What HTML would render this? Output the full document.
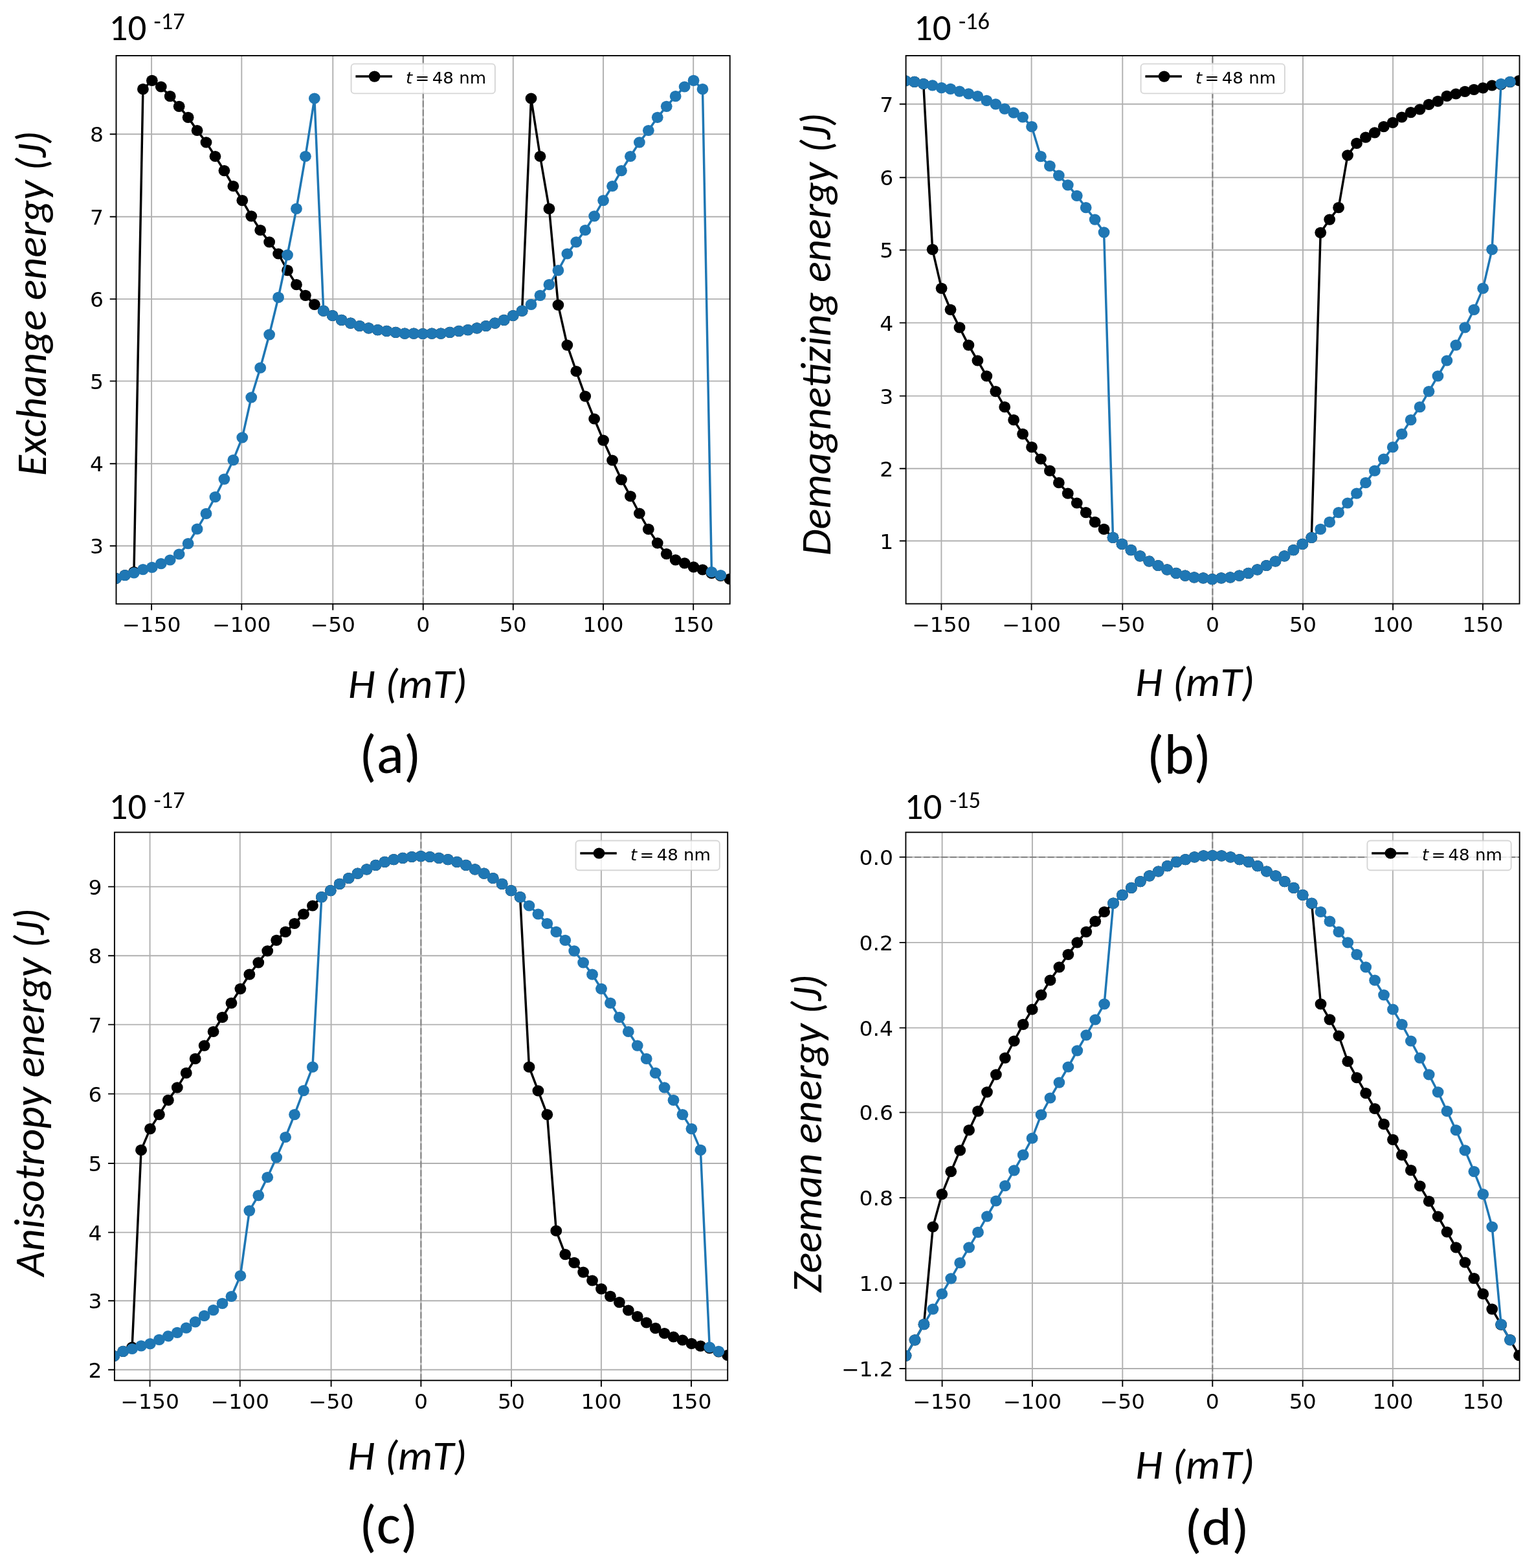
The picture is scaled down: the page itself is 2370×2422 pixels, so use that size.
<!DOCTYPE html><html><head><meta charset="utf-8"><title>Energy vs H</title><style>html,body{margin:0;padding:0;background:#fff}svg{display:block}</style></head><body>
<svg xmlns="http://www.w3.org/2000/svg" width="2370" height="2422" viewBox="0 0 2370 2422">
<rect width="2370" height="2422" fill="#fff"/>
<clipPath id="clip_a"><rect x="179.5" y="86" width="948.2" height="846.8"/></clipPath>
<path d="M234.1 86V932.8M373.3 86V932.8M514.3 86V932.8M653.75 86V932.8M792.8 86V932.8M932 86V932.8M1071.2 86V932.8M179.5 207.2H1127.7M179.5 334.8H1127.7M179.5 461.9H1127.7M179.5 588.6H1127.7M179.5 716.3H1127.7M179.5 843.2H1127.7" stroke="#b0b0b0" stroke-width="1.9" fill="none"/>
<g clip-path="url(#clip_a)">
<path d="M653.75 932.8V86" stroke="#808080" stroke-width="2" stroke-dasharray="10 3.7" fill="none"/>
<polyline points="179.07,893.4 193.02,888.5 206.96,883.5 220.91,137.7 234.85,124.4 248.8,134 262.74,148.7 276.69,164.3 290.63,181.3 304.58,201.5 318.52,219.9 332.47,241.5 346.41,263.6 360.36,287.5 374.3,309.6 388.25,333.8 402.19,355.5 416.13,373.9 430.08,392 444.03,417.7 457.97,439.7 471.92,456.3 485.86,470.4 499.81,480.2 513.75,487.5 527.7,494.3 541.64,499.1 555.59,503.5 569.53,506.8 583.48,509.6 597.42,511.4 611.37,513.3 625.31,515.1 639.25,515.1 653.2,515.5 667.15,515.1 681.09,515.1 695.04,513.3 708.98,511.4 722.93,509.6 736.87,506.8 750.82,503.5 764.76,499.1 778.71,494.3 792.65,487.5 806.6,480.2 820.54,152 834.49,241.5 848.43,322.4 862.38,471.1 876.32,533.1 890.27,573.5 904.21,612.1 918.16,647 932.1,680.1 946.05,711 959.99,740.8 973.94,766.5 987.88,793 1001.83,817.4 1015.77,838.8 1029.72,855.6 1043.66,864.9 1057.61,869.9 1071.55,875.8 1085.5,880 1099.44,885.5 1113.38,889.5 1127.33,894.3" fill="none" stroke="#000" stroke-width="3.5" stroke-linejoin="round"/>
<g fill="#000"><ellipse cx="179.07" cy="893.4" rx="8.9" ry="8.6"/><ellipse cx="193.02" cy="888.5" rx="8.9" ry="8.6"/><ellipse cx="206.96" cy="883.5" rx="8.9" ry="8.6"/><ellipse cx="220.91" cy="137.7" rx="8.9" ry="8.6"/><ellipse cx="234.85" cy="124.4" rx="8.9" ry="8.6"/><ellipse cx="248.8" cy="134" rx="8.9" ry="8.6"/><ellipse cx="262.74" cy="148.7" rx="8.9" ry="8.6"/><ellipse cx="276.69" cy="164.3" rx="8.9" ry="8.6"/><ellipse cx="290.63" cy="181.3" rx="8.9" ry="8.6"/><ellipse cx="304.58" cy="201.5" rx="8.9" ry="8.6"/><ellipse cx="318.52" cy="219.9" rx="8.9" ry="8.6"/><ellipse cx="332.47" cy="241.5" rx="8.9" ry="8.6"/><ellipse cx="346.41" cy="263.6" rx="8.9" ry="8.6"/><ellipse cx="360.36" cy="287.5" rx="8.9" ry="8.6"/><ellipse cx="374.3" cy="309.6" rx="8.9" ry="8.6"/><ellipse cx="388.25" cy="333.8" rx="8.9" ry="8.6"/><ellipse cx="402.19" cy="355.5" rx="8.9" ry="8.6"/><ellipse cx="416.13" cy="373.9" rx="8.9" ry="8.6"/><ellipse cx="430.08" cy="392" rx="8.9" ry="8.6"/><ellipse cx="444.03" cy="417.7" rx="8.9" ry="8.6"/><ellipse cx="457.97" cy="439.7" rx="8.9" ry="8.6"/><ellipse cx="471.92" cy="456.3" rx="8.9" ry="8.6"/><ellipse cx="485.86" cy="470.4" rx="8.9" ry="8.6"/><ellipse cx="499.81" cy="480.2" rx="8.9" ry="8.6"/><ellipse cx="513.75" cy="487.5" rx="8.9" ry="8.6"/><ellipse cx="527.7" cy="494.3" rx="8.9" ry="8.6"/><ellipse cx="541.64" cy="499.1" rx="8.9" ry="8.6"/><ellipse cx="555.59" cy="503.5" rx="8.9" ry="8.6"/><ellipse cx="569.53" cy="506.8" rx="8.9" ry="8.6"/><ellipse cx="583.48" cy="509.6" rx="8.9" ry="8.6"/><ellipse cx="597.42" cy="511.4" rx="8.9" ry="8.6"/><ellipse cx="611.37" cy="513.3" rx="8.9" ry="8.6"/><ellipse cx="625.31" cy="515.1" rx="8.9" ry="8.6"/><ellipse cx="639.25" cy="515.1" rx="8.9" ry="8.6"/><ellipse cx="653.2" cy="515.5" rx="8.9" ry="8.6"/><ellipse cx="667.15" cy="515.1" rx="8.9" ry="8.6"/><ellipse cx="681.09" cy="515.1" rx="8.9" ry="8.6"/><ellipse cx="695.04" cy="513.3" rx="8.9" ry="8.6"/><ellipse cx="708.98" cy="511.4" rx="8.9" ry="8.6"/><ellipse cx="722.93" cy="509.6" rx="8.9" ry="8.6"/><ellipse cx="736.87" cy="506.8" rx="8.9" ry="8.6"/><ellipse cx="750.82" cy="503.5" rx="8.9" ry="8.6"/><ellipse cx="764.76" cy="499.1" rx="8.9" ry="8.6"/><ellipse cx="778.71" cy="494.3" rx="8.9" ry="8.6"/><ellipse cx="792.65" cy="487.5" rx="8.9" ry="8.6"/><ellipse cx="806.6" cy="480.2" rx="8.9" ry="8.6"/><ellipse cx="820.54" cy="152" rx="8.9" ry="8.6"/><ellipse cx="834.49" cy="241.5" rx="8.9" ry="8.6"/><ellipse cx="848.43" cy="322.4" rx="8.9" ry="8.6"/><ellipse cx="862.38" cy="471.1" rx="8.9" ry="8.6"/><ellipse cx="876.32" cy="533.1" rx="8.9" ry="8.6"/><ellipse cx="890.27" cy="573.5" rx="8.9" ry="8.6"/><ellipse cx="904.21" cy="612.1" rx="8.9" ry="8.6"/><ellipse cx="918.16" cy="647" rx="8.9" ry="8.6"/><ellipse cx="932.1" cy="680.1" rx="8.9" ry="8.6"/><ellipse cx="946.05" cy="711" rx="8.9" ry="8.6"/><ellipse cx="959.99" cy="740.8" rx="8.9" ry="8.6"/><ellipse cx="973.94" cy="766.5" rx="8.9" ry="8.6"/><ellipse cx="987.88" cy="793" rx="8.9" ry="8.6"/><ellipse cx="1001.83" cy="817.4" rx="8.9" ry="8.6"/><ellipse cx="1015.77" cy="838.8" rx="8.9" ry="8.6"/><ellipse cx="1029.72" cy="855.6" rx="8.9" ry="8.6"/><ellipse cx="1043.66" cy="864.9" rx="8.9" ry="8.6"/><ellipse cx="1057.61" cy="869.9" rx="8.9" ry="8.6"/><ellipse cx="1071.55" cy="875.8" rx="8.9" ry="8.6"/><ellipse cx="1085.5" cy="880" rx="8.9" ry="8.6"/><ellipse cx="1099.44" cy="885.5" rx="8.9" ry="8.6"/><ellipse cx="1113.38" cy="889.5" rx="8.9" ry="8.6"/><ellipse cx="1127.33" cy="894.3" rx="8.9" ry="8.6"/></g>
<polyline points="179.07,893.4 193.02,888.7 206.96,884.8 220.91,879.6 234.85,876.4 248.8,870.6 262.74,865 276.69,856 290.63,839.6 304.58,817.2 318.52,793.4 332.47,767.7 346.41,740.1 360.36,710.7 374.3,675.8 388.25,613.8 402.19,568.2 416.13,516.8 430.08,459.4 444.03,393.8 457.97,322.4 471.92,241.5 485.86,152 499.81,480.2 513.75,487.5 527.7,494.3 541.64,499.1 555.59,503.5 569.53,506.8 583.48,509.6 597.42,511.4 611.37,513.3 625.31,515.1 639.25,515.1 653.2,515.5 667.15,515.1 681.09,515.1 695.04,513.3 708.98,511.4 722.93,509.6 736.87,506.8 750.82,503.5 764.76,499.1 778.71,494.3 792.65,487.5 806.6,480.2 820.54,470.4 834.49,456.3 848.43,439.7 862.38,417.7 876.32,392 890.27,373.9 904.21,355.5 918.16,333.8 932.1,309.6 946.05,287.5 959.99,263.6 973.94,241.5 987.88,219.9 1001.83,201.5 1015.77,181.3 1029.72,164.3 1043.66,148.7 1057.61,134 1071.55,124.4 1085.5,137.7 1099.44,883.5 1113.38,888.5" fill="none" stroke="#1f77b4" stroke-width="3.5" stroke-linejoin="round"/>
<g fill="#1f77b4"><ellipse cx="179.07" cy="893.4" rx="8.9" ry="8.6"/><ellipse cx="193.02" cy="888.7" rx="8.9" ry="8.6"/><ellipse cx="206.96" cy="884.8" rx="8.9" ry="8.6"/><ellipse cx="220.91" cy="879.6" rx="8.9" ry="8.6"/><ellipse cx="234.85" cy="876.4" rx="8.9" ry="8.6"/><ellipse cx="248.8" cy="870.6" rx="8.9" ry="8.6"/><ellipse cx="262.74" cy="865" rx="8.9" ry="8.6"/><ellipse cx="276.69" cy="856" rx="8.9" ry="8.6"/><ellipse cx="290.63" cy="839.6" rx="8.9" ry="8.6"/><ellipse cx="304.58" cy="817.2" rx="8.9" ry="8.6"/><ellipse cx="318.52" cy="793.4" rx="8.9" ry="8.6"/><ellipse cx="332.47" cy="767.7" rx="8.9" ry="8.6"/><ellipse cx="346.41" cy="740.1" rx="8.9" ry="8.6"/><ellipse cx="360.36" cy="710.7" rx="8.9" ry="8.6"/><ellipse cx="374.3" cy="675.8" rx="8.9" ry="8.6"/><ellipse cx="388.25" cy="613.8" rx="8.9" ry="8.6"/><ellipse cx="402.19" cy="568.2" rx="8.9" ry="8.6"/><ellipse cx="416.13" cy="516.8" rx="8.9" ry="8.6"/><ellipse cx="430.08" cy="459.4" rx="8.9" ry="8.6"/><ellipse cx="444.03" cy="393.8" rx="8.9" ry="8.6"/><ellipse cx="457.97" cy="322.4" rx="8.9" ry="8.6"/><ellipse cx="471.92" cy="241.5" rx="8.9" ry="8.6"/><ellipse cx="485.86" cy="152" rx="8.9" ry="8.6"/><ellipse cx="499.81" cy="480.2" rx="8.9" ry="8.6"/><ellipse cx="513.75" cy="487.5" rx="8.9" ry="8.6"/><ellipse cx="527.7" cy="494.3" rx="8.9" ry="8.6"/><ellipse cx="541.64" cy="499.1" rx="8.9" ry="8.6"/><ellipse cx="555.59" cy="503.5" rx="8.9" ry="8.6"/><ellipse cx="569.53" cy="506.8" rx="8.9" ry="8.6"/><ellipse cx="583.48" cy="509.6" rx="8.9" ry="8.6"/><ellipse cx="597.42" cy="511.4" rx="8.9" ry="8.6"/><ellipse cx="611.37" cy="513.3" rx="8.9" ry="8.6"/><ellipse cx="625.31" cy="515.1" rx="8.9" ry="8.6"/><ellipse cx="639.25" cy="515.1" rx="8.9" ry="8.6"/><ellipse cx="653.2" cy="515.5" rx="8.9" ry="8.6"/><ellipse cx="667.15" cy="515.1" rx="8.9" ry="8.6"/><ellipse cx="681.09" cy="515.1" rx="8.9" ry="8.6"/><ellipse cx="695.04" cy="513.3" rx="8.9" ry="8.6"/><ellipse cx="708.98" cy="511.4" rx="8.9" ry="8.6"/><ellipse cx="722.93" cy="509.6" rx="8.9" ry="8.6"/><ellipse cx="736.87" cy="506.8" rx="8.9" ry="8.6"/><ellipse cx="750.82" cy="503.5" rx="8.9" ry="8.6"/><ellipse cx="764.76" cy="499.1" rx="8.9" ry="8.6"/><ellipse cx="778.71" cy="494.3" rx="8.9" ry="8.6"/><ellipse cx="792.65" cy="487.5" rx="8.9" ry="8.6"/><ellipse cx="806.6" cy="480.2" rx="8.9" ry="8.6"/><ellipse cx="820.54" cy="470.4" rx="8.9" ry="8.6"/><ellipse cx="834.49" cy="456.3" rx="8.9" ry="8.6"/><ellipse cx="848.43" cy="439.7" rx="8.9" ry="8.6"/><ellipse cx="862.38" cy="417.7" rx="8.9" ry="8.6"/><ellipse cx="876.32" cy="392" rx="8.9" ry="8.6"/><ellipse cx="890.27" cy="373.9" rx="8.9" ry="8.6"/><ellipse cx="904.21" cy="355.5" rx="8.9" ry="8.6"/><ellipse cx="918.16" cy="333.8" rx="8.9" ry="8.6"/><ellipse cx="932.1" cy="309.6" rx="8.9" ry="8.6"/><ellipse cx="946.05" cy="287.5" rx="8.9" ry="8.6"/><ellipse cx="959.99" cy="263.6" rx="8.9" ry="8.6"/><ellipse cx="973.94" cy="241.5" rx="8.9" ry="8.6"/><ellipse cx="987.88" cy="219.9" rx="8.9" ry="8.6"/><ellipse cx="1001.83" cy="201.5" rx="8.9" ry="8.6"/><ellipse cx="1015.77" cy="181.3" rx="8.9" ry="8.6"/><ellipse cx="1029.72" cy="164.3" rx="8.9" ry="8.6"/><ellipse cx="1043.66" cy="148.7" rx="8.9" ry="8.6"/><ellipse cx="1057.61" cy="134" rx="8.9" ry="8.6"/><ellipse cx="1071.55" cy="124.4" rx="8.9" ry="8.6"/><ellipse cx="1085.5" cy="137.7" rx="8.9" ry="8.6"/><ellipse cx="1099.44" cy="883.5" rx="8.9" ry="8.6"/><ellipse cx="1113.38" cy="888.5" rx="8.9" ry="8.6"/></g>
</g>
<rect x="179.5" y="86" width="948.2" height="846.8" fill="none" stroke="#000" stroke-width="1.9"/>
<path d="M234.1 932.8v9.8M373.3 932.8v9.8M514.3 932.8v9.8M653.75 932.8v9.8M792.8 932.8v9.8M932 932.8v9.8M1071.2 932.8v9.8M179.5 207.2h-9.8M179.5 334.8h-9.8M179.5 461.9h-9.8M179.5 588.6h-9.8M179.5 716.3h-9.8M179.5 843.2h-9.8" stroke="#000" stroke-width="1.9" fill="none"/>
<g font-family="DejaVu Sans" font-size="31.4" fill="#000">
<text transform="translate(234.1 976.2) scale(1.05 1)" text-anchor="middle">−150</text>
<text transform="translate(373.3 976.2) scale(1.05 1)" text-anchor="middle">−100</text>
<text transform="translate(514.3 976.2) scale(1.05 1)" text-anchor="middle">−50</text>
<text transform="translate(653.75 976.2) scale(1.05 1)" text-anchor="middle">0</text>
<text transform="translate(792.8 976.2) scale(1.05 1)" text-anchor="middle">50</text>
<text transform="translate(932 976.2) scale(1.05 1)" text-anchor="middle">100</text>
<text transform="translate(1071.2 976.2) scale(1.05 1)" text-anchor="middle">150</text>
<text transform="translate(160.1 219.2) scale(1.05 1)" text-anchor="end">8</text>
<text transform="translate(160.1 346.8) scale(1.05 1)" text-anchor="end">7</text>
<text transform="translate(160.1 473.9) scale(1.05 1)" text-anchor="end">6</text>
<text transform="translate(160.1 600.6) scale(1.05 1)" text-anchor="end">5</text>
<text transform="translate(160.1 728.3) scale(1.05 1)" text-anchor="end">4</text>
<text transform="translate(160.1 855.2) scale(1.05 1)" text-anchor="end">3</text>
</g>
<clipPath id="clip_b"><rect x="1399.6" y="86" width="948" height="846.6"/></clipPath>
<path d="M1454.4 86V932.6M1593.6 86V932.6M1734.3 86V932.6M1873.4 86V932.6M2013 86V932.6M2152.1 86V932.6M2291 86V932.6M1399.6 160.8H2347.6M1399.6 274.3H2347.6M1399.6 386.3H2347.6M1399.6 498.6H2347.6M1399.6 611.6H2347.6M1399.6 723.8H2347.6M1399.6 835.5H2347.6" stroke="#b0b0b0" stroke-width="1.9" fill="none"/>
<g clip-path="url(#clip_b)">
<path d="M1873.4 932.6V86" stroke="#808080" stroke-width="2" stroke-dasharray="10 3.7" fill="none"/>
<polyline points="1398.82,124.9 1412.76,126.4 1426.71,129.5 1440.65,385.3 1454.6,445.3 1468.54,478.3 1482.48,505.9 1496.43,533.1 1510.37,557 1524.31,580.9 1538.26,604.6 1552.2,628.7 1566.14,648.7 1580.09,670.4 1594.03,690.7 1607.97,709 1621.92,727.2 1635.86,745.7 1649.8,762.2 1663.75,777 1677.69,791.7 1691.63,806.4 1705.58,817.4 1719.52,830.3 1733.47,840.4 1747.41,849.6 1761.35,858.8 1775.3,867 1789.24,873.5 1803.18,879.9 1817.13,885.4 1831.07,889.1 1845.01,891.8 1858.96,892.8 1872.9,894.6 1886.84,892.8 1900.79,891.8 1914.73,889.1 1928.67,885.4 1942.62,879.9 1956.56,873.5 1970.5,867 1984.45,858.8 1998.39,849.6 2012.34,840.4 2026.28,830.3 2040.22,359.3 2054.17,339.1 2068.11,320.7 2082.05,239.8 2096,221.4 2109.94,212.2 2123.88,204.9 2137.83,195.7 2151.77,189.3 2165.71,181 2179.66,173.6 2193.6,169 2207.54,161.4 2221.49,156.4 2235.43,148.4 2249.37,145 2263.32,141.3 2277.26,138.3 2291.2,135.8 2305.15,132 2319.09,130.3 2333.04,126.6 2346.98,124.5" fill="none" stroke="#000" stroke-width="3.5" stroke-linejoin="round"/>
<g fill="#000"><ellipse cx="1398.82" cy="124.9" rx="8.9" ry="8.6"/><ellipse cx="1412.76" cy="126.4" rx="8.9" ry="8.6"/><ellipse cx="1426.71" cy="129.5" rx="8.9" ry="8.6"/><ellipse cx="1440.65" cy="385.3" rx="8.9" ry="8.6"/><ellipse cx="1454.6" cy="445.3" rx="8.9" ry="8.6"/><ellipse cx="1468.54" cy="478.3" rx="8.9" ry="8.6"/><ellipse cx="1482.48" cy="505.9" rx="8.9" ry="8.6"/><ellipse cx="1496.43" cy="533.1" rx="8.9" ry="8.6"/><ellipse cx="1510.37" cy="557" rx="8.9" ry="8.6"/><ellipse cx="1524.31" cy="580.9" rx="8.9" ry="8.6"/><ellipse cx="1538.26" cy="604.6" rx="8.9" ry="8.6"/><ellipse cx="1552.2" cy="628.7" rx="8.9" ry="8.6"/><ellipse cx="1566.14" cy="648.7" rx="8.9" ry="8.6"/><ellipse cx="1580.09" cy="670.4" rx="8.9" ry="8.6"/><ellipse cx="1594.03" cy="690.7" rx="8.9" ry="8.6"/><ellipse cx="1607.97" cy="709" rx="8.9" ry="8.6"/><ellipse cx="1621.92" cy="727.2" rx="8.9" ry="8.6"/><ellipse cx="1635.86" cy="745.7" rx="8.9" ry="8.6"/><ellipse cx="1649.8" cy="762.2" rx="8.9" ry="8.6"/><ellipse cx="1663.75" cy="777" rx="8.9" ry="8.6"/><ellipse cx="1677.69" cy="791.7" rx="8.9" ry="8.6"/><ellipse cx="1691.63" cy="806.4" rx="8.9" ry="8.6"/><ellipse cx="1705.58" cy="817.4" rx="8.9" ry="8.6"/><ellipse cx="1719.52" cy="830.3" rx="8.9" ry="8.6"/><ellipse cx="1733.47" cy="840.4" rx="8.9" ry="8.6"/><ellipse cx="1747.41" cy="849.6" rx="8.9" ry="8.6"/><ellipse cx="1761.35" cy="858.8" rx="8.9" ry="8.6"/><ellipse cx="1775.3" cy="867" rx="8.9" ry="8.6"/><ellipse cx="1789.24" cy="873.5" rx="8.9" ry="8.6"/><ellipse cx="1803.18" cy="879.9" rx="8.9" ry="8.6"/><ellipse cx="1817.13" cy="885.4" rx="8.9" ry="8.6"/><ellipse cx="1831.07" cy="889.1" rx="8.9" ry="8.6"/><ellipse cx="1845.01" cy="891.8" rx="8.9" ry="8.6"/><ellipse cx="1858.96" cy="892.8" rx="8.9" ry="8.6"/><ellipse cx="1872.9" cy="894.6" rx="8.9" ry="8.6"/><ellipse cx="1886.84" cy="892.8" rx="8.9" ry="8.6"/><ellipse cx="1900.79" cy="891.8" rx="8.9" ry="8.6"/><ellipse cx="1914.73" cy="889.1" rx="8.9" ry="8.6"/><ellipse cx="1928.67" cy="885.4" rx="8.9" ry="8.6"/><ellipse cx="1942.62" cy="879.9" rx="8.9" ry="8.6"/><ellipse cx="1956.56" cy="873.5" rx="8.9" ry="8.6"/><ellipse cx="1970.5" cy="867" rx="8.9" ry="8.6"/><ellipse cx="1984.45" cy="858.8" rx="8.9" ry="8.6"/><ellipse cx="1998.39" cy="849.6" rx="8.9" ry="8.6"/><ellipse cx="2012.34" cy="840.4" rx="8.9" ry="8.6"/><ellipse cx="2026.28" cy="830.3" rx="8.9" ry="8.6"/><ellipse cx="2040.22" cy="359.3" rx="8.9" ry="8.6"/><ellipse cx="2054.17" cy="339.1" rx="8.9" ry="8.6"/><ellipse cx="2068.11" cy="320.7" rx="8.9" ry="8.6"/><ellipse cx="2082.05" cy="239.8" rx="8.9" ry="8.6"/><ellipse cx="2096" cy="221.4" rx="8.9" ry="8.6"/><ellipse cx="2109.94" cy="212.2" rx="8.9" ry="8.6"/><ellipse cx="2123.88" cy="204.9" rx="8.9" ry="8.6"/><ellipse cx="2137.83" cy="195.7" rx="8.9" ry="8.6"/><ellipse cx="2151.77" cy="189.3" rx="8.9" ry="8.6"/><ellipse cx="2165.71" cy="181" rx="8.9" ry="8.6"/><ellipse cx="2179.66" cy="173.6" rx="8.9" ry="8.6"/><ellipse cx="2193.6" cy="169" rx="8.9" ry="8.6"/><ellipse cx="2207.54" cy="161.4" rx="8.9" ry="8.6"/><ellipse cx="2221.49" cy="156.4" rx="8.9" ry="8.6"/><ellipse cx="2235.43" cy="148.4" rx="8.9" ry="8.6"/><ellipse cx="2249.37" cy="145" rx="8.9" ry="8.6"/><ellipse cx="2263.32" cy="141.3" rx="8.9" ry="8.6"/><ellipse cx="2277.26" cy="138.3" rx="8.9" ry="8.6"/><ellipse cx="2291.2" cy="135.8" rx="8.9" ry="8.6"/><ellipse cx="2305.15" cy="132" rx="8.9" ry="8.6"/><ellipse cx="2319.09" cy="130.3" rx="8.9" ry="8.6"/><ellipse cx="2333.04" cy="126.6" rx="8.9" ry="8.6"/><ellipse cx="2346.98" cy="124.5" rx="8.9" ry="8.6"/></g>
<polyline points="1398.82,124.9 1412.76,126.4 1426.71,129.5 1440.65,131.9 1454.6,135.6 1468.54,137.4 1482.48,141.1 1496.43,144.8 1510.37,148.5 1524.31,155.3 1538.26,160.8 1552.2,168.1 1566.14,174.2 1580.09,181 1594.03,195.7 1607.97,241.7 1621.92,256.4 1635.86,271.1 1649.8,285.8 1663.75,302.3 1677.69,320.7 1691.63,339.1 1705.58,358.8 1719.52,830.3 1733.47,840.4 1747.41,849.6 1761.35,858.8 1775.3,867 1789.24,873.5 1803.18,879.9 1817.13,885.4 1831.07,889.1 1845.01,891.8 1858.96,892.8 1872.9,894.6 1886.84,892.8 1900.79,891.8 1914.73,889.1 1928.67,885.4 1942.62,879.9 1956.56,873.5 1970.5,867 1984.45,858.8 1998.39,849.6 2012.34,840.4 2026.28,830.3 2040.22,817.4 2054.17,806.4 2068.11,791.7 2082.05,777 2096,762.2 2109.94,745.7 2123.88,727.2 2137.83,709 2151.77,690.7 2165.71,670.4 2179.66,648.7 2193.6,628.7 2207.54,604.6 2221.49,580.9 2235.43,557 2249.37,533.1 2263.32,505.9 2277.26,478.3 2291.2,445.3 2305.15,385.3 2319.09,129.5 2333.04,126.4" fill="none" stroke="#1f77b4" stroke-width="3.5" stroke-linejoin="round"/>
<g fill="#1f77b4"><ellipse cx="1398.82" cy="124.9" rx="8.9" ry="8.6"/><ellipse cx="1412.76" cy="126.4" rx="8.9" ry="8.6"/><ellipse cx="1426.71" cy="129.5" rx="8.9" ry="8.6"/><ellipse cx="1440.65" cy="131.9" rx="8.9" ry="8.6"/><ellipse cx="1454.6" cy="135.6" rx="8.9" ry="8.6"/><ellipse cx="1468.54" cy="137.4" rx="8.9" ry="8.6"/><ellipse cx="1482.48" cy="141.1" rx="8.9" ry="8.6"/><ellipse cx="1496.43" cy="144.8" rx="8.9" ry="8.6"/><ellipse cx="1510.37" cy="148.5" rx="8.9" ry="8.6"/><ellipse cx="1524.31" cy="155.3" rx="8.9" ry="8.6"/><ellipse cx="1538.26" cy="160.8" rx="8.9" ry="8.6"/><ellipse cx="1552.2" cy="168.1" rx="8.9" ry="8.6"/><ellipse cx="1566.14" cy="174.2" rx="8.9" ry="8.6"/><ellipse cx="1580.09" cy="181" rx="8.9" ry="8.6"/><ellipse cx="1594.03" cy="195.7" rx="8.9" ry="8.6"/><ellipse cx="1607.97" cy="241.7" rx="8.9" ry="8.6"/><ellipse cx="1621.92" cy="256.4" rx="8.9" ry="8.6"/><ellipse cx="1635.86" cy="271.1" rx="8.9" ry="8.6"/><ellipse cx="1649.8" cy="285.8" rx="8.9" ry="8.6"/><ellipse cx="1663.75" cy="302.3" rx="8.9" ry="8.6"/><ellipse cx="1677.69" cy="320.7" rx="8.9" ry="8.6"/><ellipse cx="1691.63" cy="339.1" rx="8.9" ry="8.6"/><ellipse cx="1705.58" cy="358.8" rx="8.9" ry="8.6"/><ellipse cx="1719.52" cy="830.3" rx="8.9" ry="8.6"/><ellipse cx="1733.47" cy="840.4" rx="8.9" ry="8.6"/><ellipse cx="1747.41" cy="849.6" rx="8.9" ry="8.6"/><ellipse cx="1761.35" cy="858.8" rx="8.9" ry="8.6"/><ellipse cx="1775.3" cy="867" rx="8.9" ry="8.6"/><ellipse cx="1789.24" cy="873.5" rx="8.9" ry="8.6"/><ellipse cx="1803.18" cy="879.9" rx="8.9" ry="8.6"/><ellipse cx="1817.13" cy="885.4" rx="8.9" ry="8.6"/><ellipse cx="1831.07" cy="889.1" rx="8.9" ry="8.6"/><ellipse cx="1845.01" cy="891.8" rx="8.9" ry="8.6"/><ellipse cx="1858.96" cy="892.8" rx="8.9" ry="8.6"/><ellipse cx="1872.9" cy="894.6" rx="8.9" ry="8.6"/><ellipse cx="1886.84" cy="892.8" rx="8.9" ry="8.6"/><ellipse cx="1900.79" cy="891.8" rx="8.9" ry="8.6"/><ellipse cx="1914.73" cy="889.1" rx="8.9" ry="8.6"/><ellipse cx="1928.67" cy="885.4" rx="8.9" ry="8.6"/><ellipse cx="1942.62" cy="879.9" rx="8.9" ry="8.6"/><ellipse cx="1956.56" cy="873.5" rx="8.9" ry="8.6"/><ellipse cx="1970.5" cy="867" rx="8.9" ry="8.6"/><ellipse cx="1984.45" cy="858.8" rx="8.9" ry="8.6"/><ellipse cx="1998.39" cy="849.6" rx="8.9" ry="8.6"/><ellipse cx="2012.34" cy="840.4" rx="8.9" ry="8.6"/><ellipse cx="2026.28" cy="830.3" rx="8.9" ry="8.6"/><ellipse cx="2040.22" cy="817.4" rx="8.9" ry="8.6"/><ellipse cx="2054.17" cy="806.4" rx="8.9" ry="8.6"/><ellipse cx="2068.11" cy="791.7" rx="8.9" ry="8.6"/><ellipse cx="2082.05" cy="777" rx="8.9" ry="8.6"/><ellipse cx="2096" cy="762.2" rx="8.9" ry="8.6"/><ellipse cx="2109.94" cy="745.7" rx="8.9" ry="8.6"/><ellipse cx="2123.88" cy="727.2" rx="8.9" ry="8.6"/><ellipse cx="2137.83" cy="709" rx="8.9" ry="8.6"/><ellipse cx="2151.77" cy="690.7" rx="8.9" ry="8.6"/><ellipse cx="2165.71" cy="670.4" rx="8.9" ry="8.6"/><ellipse cx="2179.66" cy="648.7" rx="8.9" ry="8.6"/><ellipse cx="2193.6" cy="628.7" rx="8.9" ry="8.6"/><ellipse cx="2207.54" cy="604.6" rx="8.9" ry="8.6"/><ellipse cx="2221.49" cy="580.9" rx="8.9" ry="8.6"/><ellipse cx="2235.43" cy="557" rx="8.9" ry="8.6"/><ellipse cx="2249.37" cy="533.1" rx="8.9" ry="8.6"/><ellipse cx="2263.32" cy="505.9" rx="8.9" ry="8.6"/><ellipse cx="2277.26" cy="478.3" rx="8.9" ry="8.6"/><ellipse cx="2291.2" cy="445.3" rx="8.9" ry="8.6"/><ellipse cx="2305.15" cy="385.3" rx="8.9" ry="8.6"/><ellipse cx="2319.09" cy="129.5" rx="8.9" ry="8.6"/><ellipse cx="2333.04" cy="126.4" rx="8.9" ry="8.6"/></g>
</g>
<rect x="1399.6" y="86" width="948" height="846.6" fill="none" stroke="#000" stroke-width="1.9"/>
<path d="M1454.4 932.6v9.8M1593.6 932.6v9.8M1734.3 932.6v9.8M1873.4 932.6v9.8M2013 932.6v9.8M2152.1 932.6v9.8M2291 932.6v9.8M1399.6 160.8h-9.8M1399.6 274.3h-9.8M1399.6 386.3h-9.8M1399.6 498.6h-9.8M1399.6 611.6h-9.8M1399.6 723.8h-9.8M1399.6 835.5h-9.8" stroke="#000" stroke-width="1.9" fill="none"/>
<g font-family="DejaVu Sans" font-size="31.4" fill="#000">
<text transform="translate(1454.4 976) scale(1.05 1)" text-anchor="middle">−150</text>
<text transform="translate(1593.6 976) scale(1.05 1)" text-anchor="middle">−100</text>
<text transform="translate(1734.3 976) scale(1.05 1)" text-anchor="middle">−50</text>
<text transform="translate(1873.4 976) scale(1.05 1)" text-anchor="middle">0</text>
<text transform="translate(2013 976) scale(1.05 1)" text-anchor="middle">50</text>
<text transform="translate(2152.1 976) scale(1.05 1)" text-anchor="middle">100</text>
<text transform="translate(2291 976) scale(1.05 1)" text-anchor="middle">150</text>
<text transform="translate(1380.2 172.8) scale(1.05 1)" text-anchor="end">7</text>
<text transform="translate(1380.2 286.3) scale(1.05 1)" text-anchor="end">6</text>
<text transform="translate(1380.2 398.3) scale(1.05 1)" text-anchor="end">5</text>
<text transform="translate(1380.2 510.6) scale(1.05 1)" text-anchor="end">4</text>
<text transform="translate(1380.2 623.6) scale(1.05 1)" text-anchor="end">3</text>
<text transform="translate(1380.2 735.8) scale(1.05 1)" text-anchor="end">2</text>
<text transform="translate(1380.2 847.5) scale(1.05 1)" text-anchor="end">1</text>
</g>
<clipPath id="clip_c"><rect x="176.9" y="1285.6" width="947.3" height="846.7"/></clipPath>
<path d="M231.6 1285.6V2132.3M370.8 1285.6V2132.3M511.6 1285.6V2132.3M650.4 1285.6V2132.3M790.1 1285.6V2132.3M928.9 1285.6V2132.3M1068 1285.6V2132.3M176.9 1369.6H1124.2M176.9 1476.2H1124.2M176.9 1582.6H1124.2M176.9 1689.6H1124.2M176.9 1797H1124.2M176.9 1903.6H1124.2M176.9 2009.3H1124.2M176.9 2115.8H1124.2" stroke="#b0b0b0" stroke-width="1.9" fill="none"/>
<g clip-path="url(#clip_c)">
<path d="M650.4 2132.3V1285.6" stroke="#808080" stroke-width="2" stroke-dasharray="10 3.7" fill="none"/>
<polyline points="176.24,2094.5 190.18,2087.4 204.12,2081 218.06,1776.4 232,1743.6 245.94,1721.6 259.88,1699.3 273.82,1679.9 287.76,1657.4 301.7,1635.4 315.64,1615.1 329.58,1593.5 343.52,1571.4 357.46,1549.3 371.4,1527.3 385.34,1505.2 399.28,1486.8 413.22,1468.8 427.16,1452.3 441.1,1439.4 455.04,1426.5 468.98,1412 482.92,1399 496.86,1385.7 510.8,1375.6 524.74,1365.4 538.68,1356.5 552.62,1349.2 566.56,1342.9 580.5,1336.3 594.44,1331.4 608.38,1327.7 622.32,1325.3 636.26,1323.5 650.2,1322.7 664.14,1323.5 678.08,1325.3 692.02,1327.7 705.96,1331.4 719.9,1336.3 733.84,1342.9 747.78,1349.2 761.72,1356.5 775.66,1365.4 789.6,1375.6 803.54,1385.7 817.48,1648.2 831.42,1684.9 845.36,1721.6 859.3,1901.2 873.24,1937.6 887.18,1950.4 901.12,1965.1 915.06,1978 929,1990.9 942.94,2002.3 956.88,2011.6 970.82,2024 984.76,2033.5 998.7,2043 1012.64,2051.6 1026.58,2059.5 1040.52,2065 1054.46,2070 1068.4,2075.3 1082.34,2079.2 1096.28,2082.5 1110.22,2088 1124.16,2093.4" fill="none" stroke="#000" stroke-width="3.5" stroke-linejoin="round"/>
<g fill="#000"><ellipse cx="176.24" cy="2094.5" rx="8.9" ry="8.6"/><ellipse cx="190.18" cy="2087.4" rx="8.9" ry="8.6"/><ellipse cx="204.12" cy="2081" rx="8.9" ry="8.6"/><ellipse cx="218.06" cy="1776.4" rx="8.9" ry="8.6"/><ellipse cx="232" cy="1743.6" rx="8.9" ry="8.6"/><ellipse cx="245.94" cy="1721.6" rx="8.9" ry="8.6"/><ellipse cx="259.88" cy="1699.3" rx="8.9" ry="8.6"/><ellipse cx="273.82" cy="1679.9" rx="8.9" ry="8.6"/><ellipse cx="287.76" cy="1657.4" rx="8.9" ry="8.6"/><ellipse cx="301.7" cy="1635.4" rx="8.9" ry="8.6"/><ellipse cx="315.64" cy="1615.1" rx="8.9" ry="8.6"/><ellipse cx="329.58" cy="1593.5" rx="8.9" ry="8.6"/><ellipse cx="343.52" cy="1571.4" rx="8.9" ry="8.6"/><ellipse cx="357.46" cy="1549.3" rx="8.9" ry="8.6"/><ellipse cx="371.4" cy="1527.3" rx="8.9" ry="8.6"/><ellipse cx="385.34" cy="1505.2" rx="8.9" ry="8.6"/><ellipse cx="399.28" cy="1486.8" rx="8.9" ry="8.6"/><ellipse cx="413.22" cy="1468.8" rx="8.9" ry="8.6"/><ellipse cx="427.16" cy="1452.3" rx="8.9" ry="8.6"/><ellipse cx="441.1" cy="1439.4" rx="8.9" ry="8.6"/><ellipse cx="455.04" cy="1426.5" rx="8.9" ry="8.6"/><ellipse cx="468.98" cy="1412" rx="8.9" ry="8.6"/><ellipse cx="482.92" cy="1399" rx="8.9" ry="8.6"/><ellipse cx="496.86" cy="1385.7" rx="8.9" ry="8.6"/><ellipse cx="510.8" cy="1375.6" rx="8.9" ry="8.6"/><ellipse cx="524.74" cy="1365.4" rx="8.9" ry="8.6"/><ellipse cx="538.68" cy="1356.5" rx="8.9" ry="8.6"/><ellipse cx="552.62" cy="1349.2" rx="8.9" ry="8.6"/><ellipse cx="566.56" cy="1342.9" rx="8.9" ry="8.6"/><ellipse cx="580.5" cy="1336.3" rx="8.9" ry="8.6"/><ellipse cx="594.44" cy="1331.4" rx="8.9" ry="8.6"/><ellipse cx="608.38" cy="1327.7" rx="8.9" ry="8.6"/><ellipse cx="622.32" cy="1325.3" rx="8.9" ry="8.6"/><ellipse cx="636.26" cy="1323.5" rx="8.9" ry="8.6"/><ellipse cx="650.2" cy="1322.7" rx="8.9" ry="8.6"/><ellipse cx="664.14" cy="1323.5" rx="8.9" ry="8.6"/><ellipse cx="678.08" cy="1325.3" rx="8.9" ry="8.6"/><ellipse cx="692.02" cy="1327.7" rx="8.9" ry="8.6"/><ellipse cx="705.96" cy="1331.4" rx="8.9" ry="8.6"/><ellipse cx="719.9" cy="1336.3" rx="8.9" ry="8.6"/><ellipse cx="733.84" cy="1342.9" rx="8.9" ry="8.6"/><ellipse cx="747.78" cy="1349.2" rx="8.9" ry="8.6"/><ellipse cx="761.72" cy="1356.5" rx="8.9" ry="8.6"/><ellipse cx="775.66" cy="1365.4" rx="8.9" ry="8.6"/><ellipse cx="789.6" cy="1375.6" rx="8.9" ry="8.6"/><ellipse cx="803.54" cy="1385.7" rx="8.9" ry="8.6"/><ellipse cx="817.48" cy="1648.2" rx="8.9" ry="8.6"/><ellipse cx="831.42" cy="1684.9" rx="8.9" ry="8.6"/><ellipse cx="845.36" cy="1721.6" rx="8.9" ry="8.6"/><ellipse cx="859.3" cy="1901.2" rx="8.9" ry="8.6"/><ellipse cx="873.24" cy="1937.6" rx="8.9" ry="8.6"/><ellipse cx="887.18" cy="1950.4" rx="8.9" ry="8.6"/><ellipse cx="901.12" cy="1965.1" rx="8.9" ry="8.6"/><ellipse cx="915.06" cy="1978" rx="8.9" ry="8.6"/><ellipse cx="929" cy="1990.9" rx="8.9" ry="8.6"/><ellipse cx="942.94" cy="2002.3" rx="8.9" ry="8.6"/><ellipse cx="956.88" cy="2011.6" rx="8.9" ry="8.6"/><ellipse cx="970.82" cy="2024" rx="8.9" ry="8.6"/><ellipse cx="984.76" cy="2033.5" rx="8.9" ry="8.6"/><ellipse cx="998.7" cy="2043" rx="8.9" ry="8.6"/><ellipse cx="1012.64" cy="2051.6" rx="8.9" ry="8.6"/><ellipse cx="1026.58" cy="2059.5" rx="8.9" ry="8.6"/><ellipse cx="1040.52" cy="2065" rx="8.9" ry="8.6"/><ellipse cx="1054.46" cy="2070" rx="8.9" ry="8.6"/><ellipse cx="1068.4" cy="2075.3" rx="8.9" ry="8.6"/><ellipse cx="1082.34" cy="2079.2" rx="8.9" ry="8.6"/><ellipse cx="1096.28" cy="2082.5" rx="8.9" ry="8.6"/><ellipse cx="1110.22" cy="2088" rx="8.9" ry="8.6"/><ellipse cx="1124.16" cy="2093.4" rx="8.9" ry="8.6"/></g>
<polyline points="176.24,2094.5 190.18,2087.4 204.12,2083.5 218.06,2078.8 232,2075.6 245.94,2069.3 259.88,2063.8 273.82,2058.3 287.76,2051.2 301.7,2041.8 315.64,2032.3 329.58,2023.6 343.52,2013.4 357.46,2002.5 371.4,1970.7 385.34,1870.1 399.28,1846.6 413.22,1818.5 427.16,1787.8 441.1,1756.5 455.04,1721.6 468.98,1684.6 482.92,1648.2 496.86,1385.7 510.8,1375.6 524.74,1365.4 538.68,1356.5 552.62,1349.2 566.56,1342.9 580.5,1336.3 594.44,1331.4 608.38,1327.7 622.32,1325.3 636.26,1323.5 650.2,1322.7 664.14,1323.5 678.08,1325.3 692.02,1327.7 705.96,1331.4 719.9,1336.3 733.84,1342.9 747.78,1349.2 761.72,1356.5 775.66,1365.4 789.6,1375.6 803.54,1385.7 817.48,1399 831.42,1412 845.36,1426.5 859.3,1439.4 873.24,1452.3 887.18,1468.8 901.12,1486.8 915.06,1505.2 929,1527.3 942.94,1549.3 956.88,1571.4 970.82,1593.5 984.76,1615.1 998.7,1635.4 1012.64,1657.4 1026.58,1679.9 1040.52,1699.3 1054.46,1721.6 1068.4,1743.6 1082.34,1776.4 1096.28,2081 1110.22,2087.4" fill="none" stroke="#1f77b4" stroke-width="3.5" stroke-linejoin="round"/>
<g fill="#1f77b4"><ellipse cx="176.24" cy="2094.5" rx="8.9" ry="8.6"/><ellipse cx="190.18" cy="2087.4" rx="8.9" ry="8.6"/><ellipse cx="204.12" cy="2083.5" rx="8.9" ry="8.6"/><ellipse cx="218.06" cy="2078.8" rx="8.9" ry="8.6"/><ellipse cx="232" cy="2075.6" rx="8.9" ry="8.6"/><ellipse cx="245.94" cy="2069.3" rx="8.9" ry="8.6"/><ellipse cx="259.88" cy="2063.8" rx="8.9" ry="8.6"/><ellipse cx="273.82" cy="2058.3" rx="8.9" ry="8.6"/><ellipse cx="287.76" cy="2051.2" rx="8.9" ry="8.6"/><ellipse cx="301.7" cy="2041.8" rx="8.9" ry="8.6"/><ellipse cx="315.64" cy="2032.3" rx="8.9" ry="8.6"/><ellipse cx="329.58" cy="2023.6" rx="8.9" ry="8.6"/><ellipse cx="343.52" cy="2013.4" rx="8.9" ry="8.6"/><ellipse cx="357.46" cy="2002.5" rx="8.9" ry="8.6"/><ellipse cx="371.4" cy="1970.7" rx="8.9" ry="8.6"/><ellipse cx="385.34" cy="1870.1" rx="8.9" ry="8.6"/><ellipse cx="399.28" cy="1846.6" rx="8.9" ry="8.6"/><ellipse cx="413.22" cy="1818.5" rx="8.9" ry="8.6"/><ellipse cx="427.16" cy="1787.8" rx="8.9" ry="8.6"/><ellipse cx="441.1" cy="1756.5" rx="8.9" ry="8.6"/><ellipse cx="455.04" cy="1721.6" rx="8.9" ry="8.6"/><ellipse cx="468.98" cy="1684.6" rx="8.9" ry="8.6"/><ellipse cx="482.92" cy="1648.2" rx="8.9" ry="8.6"/><ellipse cx="496.86" cy="1385.7" rx="8.9" ry="8.6"/><ellipse cx="510.8" cy="1375.6" rx="8.9" ry="8.6"/><ellipse cx="524.74" cy="1365.4" rx="8.9" ry="8.6"/><ellipse cx="538.68" cy="1356.5" rx="8.9" ry="8.6"/><ellipse cx="552.62" cy="1349.2" rx="8.9" ry="8.6"/><ellipse cx="566.56" cy="1342.9" rx="8.9" ry="8.6"/><ellipse cx="580.5" cy="1336.3" rx="8.9" ry="8.6"/><ellipse cx="594.44" cy="1331.4" rx="8.9" ry="8.6"/><ellipse cx="608.38" cy="1327.7" rx="8.9" ry="8.6"/><ellipse cx="622.32" cy="1325.3" rx="8.9" ry="8.6"/><ellipse cx="636.26" cy="1323.5" rx="8.9" ry="8.6"/><ellipse cx="650.2" cy="1322.7" rx="8.9" ry="8.6"/><ellipse cx="664.14" cy="1323.5" rx="8.9" ry="8.6"/><ellipse cx="678.08" cy="1325.3" rx="8.9" ry="8.6"/><ellipse cx="692.02" cy="1327.7" rx="8.9" ry="8.6"/><ellipse cx="705.96" cy="1331.4" rx="8.9" ry="8.6"/><ellipse cx="719.9" cy="1336.3" rx="8.9" ry="8.6"/><ellipse cx="733.84" cy="1342.9" rx="8.9" ry="8.6"/><ellipse cx="747.78" cy="1349.2" rx="8.9" ry="8.6"/><ellipse cx="761.72" cy="1356.5" rx="8.9" ry="8.6"/><ellipse cx="775.66" cy="1365.4" rx="8.9" ry="8.6"/><ellipse cx="789.6" cy="1375.6" rx="8.9" ry="8.6"/><ellipse cx="803.54" cy="1385.7" rx="8.9" ry="8.6"/><ellipse cx="817.48" cy="1399" rx="8.9" ry="8.6"/><ellipse cx="831.42" cy="1412" rx="8.9" ry="8.6"/><ellipse cx="845.36" cy="1426.5" rx="8.9" ry="8.6"/><ellipse cx="859.3" cy="1439.4" rx="8.9" ry="8.6"/><ellipse cx="873.24" cy="1452.3" rx="8.9" ry="8.6"/><ellipse cx="887.18" cy="1468.8" rx="8.9" ry="8.6"/><ellipse cx="901.12" cy="1486.8" rx="8.9" ry="8.6"/><ellipse cx="915.06" cy="1505.2" rx="8.9" ry="8.6"/><ellipse cx="929" cy="1527.3" rx="8.9" ry="8.6"/><ellipse cx="942.94" cy="1549.3" rx="8.9" ry="8.6"/><ellipse cx="956.88" cy="1571.4" rx="8.9" ry="8.6"/><ellipse cx="970.82" cy="1593.5" rx="8.9" ry="8.6"/><ellipse cx="984.76" cy="1615.1" rx="8.9" ry="8.6"/><ellipse cx="998.7" cy="1635.4" rx="8.9" ry="8.6"/><ellipse cx="1012.64" cy="1657.4" rx="8.9" ry="8.6"/><ellipse cx="1026.58" cy="1679.9" rx="8.9" ry="8.6"/><ellipse cx="1040.52" cy="1699.3" rx="8.9" ry="8.6"/><ellipse cx="1054.46" cy="1721.6" rx="8.9" ry="8.6"/><ellipse cx="1068.4" cy="1743.6" rx="8.9" ry="8.6"/><ellipse cx="1082.34" cy="1776.4" rx="8.9" ry="8.6"/><ellipse cx="1096.28" cy="2081" rx="8.9" ry="8.6"/><ellipse cx="1110.22" cy="2087.4" rx="8.9" ry="8.6"/></g>
</g>
<rect x="176.9" y="1285.6" width="947.3" height="846.7" fill="none" stroke="#000" stroke-width="1.9"/>
<path d="M231.6 2132.3v9.8M370.8 2132.3v9.8M511.6 2132.3v9.8M650.4 2132.3v9.8M790.1 2132.3v9.8M928.9 2132.3v9.8M1068 2132.3v9.8M176.9 1369.6h-9.8M176.9 1476.2h-9.8M176.9 1582.6h-9.8M176.9 1689.6h-9.8M176.9 1797h-9.8M176.9 1903.6h-9.8M176.9 2009.3h-9.8M176.9 2115.8h-9.8" stroke="#000" stroke-width="1.9" fill="none"/>
<g font-family="DejaVu Sans" font-size="31.4" fill="#000">
<text transform="translate(231.6 2175.7) scale(1.05 1)" text-anchor="middle">−150</text>
<text transform="translate(370.8 2175.7) scale(1.05 1)" text-anchor="middle">−100</text>
<text transform="translate(511.6 2175.7) scale(1.05 1)" text-anchor="middle">−50</text>
<text transform="translate(650.4 2175.7) scale(1.05 1)" text-anchor="middle">0</text>
<text transform="translate(790.1 2175.7) scale(1.05 1)" text-anchor="middle">50</text>
<text transform="translate(928.9 2175.7) scale(1.05 1)" text-anchor="middle">100</text>
<text transform="translate(1068 2175.7) scale(1.05 1)" text-anchor="middle">150</text>
<text transform="translate(157.5 1381.6) scale(1.05 1)" text-anchor="end">9</text>
<text transform="translate(157.5 1488.2) scale(1.05 1)" text-anchor="end">8</text>
<text transform="translate(157.5 1594.6) scale(1.05 1)" text-anchor="end">7</text>
<text transform="translate(157.5 1701.6) scale(1.05 1)" text-anchor="end">6</text>
<text transform="translate(157.5 1809) scale(1.05 1)" text-anchor="end">5</text>
<text transform="translate(157.5 1915.6) scale(1.05 1)" text-anchor="end">4</text>
<text transform="translate(157.5 2021.3) scale(1.05 1)" text-anchor="end">3</text>
<text transform="translate(157.5 2127.8) scale(1.05 1)" text-anchor="end">2</text>
</g>
<clipPath id="clip_d"><rect x="1399.4" y="1285.6" width="948.3" height="846.7"/></clipPath>
<path d="M1455.6 1285.6V2132.3M1594.9 1285.6V2132.3M1734.3 1285.6V2132.3M1873.3 1285.6V2132.3M2012.7 1285.6V2132.3M2151.9 1285.6V2132.3M2291.3 1285.6V2132.3M1399.4 1323.9H2347.7M1399.4 1455.9H2347.7M1399.4 1587.6H2347.7M1399.4 1718.4H2347.7M1399.4 1850.1H2347.7M1399.4 1982H2347.7M1399.4 2114H2347.7" stroke="#b0b0b0" stroke-width="1.9" fill="none"/>
<g clip-path="url(#clip_d)">
<path d="M1873.3 2132.3V1285.6" stroke="#808080" stroke-width="2" stroke-dasharray="10 3.7" fill="none"/>
<path d="M1399.4 1324H2347.7" stroke="#808080" stroke-width="2" stroke-dasharray="10 3.7" fill="none"/>
<polyline points="1399.56,2094.1 1413.49,2069.8 1427.43,2045.7 1441.36,1895 1455.29,1844.6 1469.23,1809.6 1483.16,1776.9 1497.1,1745.7 1511.03,1716.3 1524.96,1686.8 1538.9,1659.8 1552.83,1634.1 1566.76,1608 1580.7,1582.4 1594.63,1559.2 1608.56,1536.8 1622.5,1514.2 1636.43,1493.9 1650.36,1474.3 1664.3,1455.9 1678.23,1439.3 1692.16,1423.2 1706.1,1408.5 1720.03,1395.2 1733.96,1382.4 1747.9,1371.3 1761.83,1361.6 1775.77,1352.9 1789.7,1346 1803.63,1337.7 1817.57,1331.3 1831.5,1327.6 1845.43,1323.9 1859.37,1321.9 1873.3,1321.5 1887.23,1321.9 1901.17,1323.9 1915.1,1327.6 1929.03,1331.3 1942.97,1337.7 1956.9,1346 1970.83,1352.9 1984.77,1361.6 1998.7,1371.3 2012.63,1382.4 2026.57,1395.4 2040.5,1550.9 2054.44,1574.8 2068.37,1600 2082.3,1639.5 2096.24,1664.7 2110.17,1688.6 2124.1,1712.5 2138.04,1736.4 2151.97,1760.3 2165.9,1784.2 2179.84,1807.7 2193.77,1832 2207.7,1855.5 2221.64,1879 2235.57,1903 2249.5,1926.8 2263.44,1950 2277.37,1974.6 2291.3,1998.7 2305.24,2022.1 2319.17,2046.2 2333.11,2069.6 2347.04,2093.7" fill="none" stroke="#000" stroke-width="3.5" stroke-linejoin="round"/>
<g fill="#000"><ellipse cx="1399.56" cy="2094.1" rx="8.9" ry="8.6"/><ellipse cx="1413.49" cy="2069.8" rx="8.9" ry="8.6"/><ellipse cx="1427.43" cy="2045.7" rx="8.9" ry="8.6"/><ellipse cx="1441.36" cy="1895" rx="8.9" ry="8.6"/><ellipse cx="1455.29" cy="1844.6" rx="8.9" ry="8.6"/><ellipse cx="1469.23" cy="1809.6" rx="8.9" ry="8.6"/><ellipse cx="1483.16" cy="1776.9" rx="8.9" ry="8.6"/><ellipse cx="1497.1" cy="1745.7" rx="8.9" ry="8.6"/><ellipse cx="1511.03" cy="1716.3" rx="8.9" ry="8.6"/><ellipse cx="1524.96" cy="1686.8" rx="8.9" ry="8.6"/><ellipse cx="1538.9" cy="1659.8" rx="8.9" ry="8.6"/><ellipse cx="1552.83" cy="1634.1" rx="8.9" ry="8.6"/><ellipse cx="1566.76" cy="1608" rx="8.9" ry="8.6"/><ellipse cx="1580.7" cy="1582.4" rx="8.9" ry="8.6"/><ellipse cx="1594.63" cy="1559.2" rx="8.9" ry="8.6"/><ellipse cx="1608.56" cy="1536.8" rx="8.9" ry="8.6"/><ellipse cx="1622.5" cy="1514.2" rx="8.9" ry="8.6"/><ellipse cx="1636.43" cy="1493.9" rx="8.9" ry="8.6"/><ellipse cx="1650.36" cy="1474.3" rx="8.9" ry="8.6"/><ellipse cx="1664.3" cy="1455.9" rx="8.9" ry="8.6"/><ellipse cx="1678.23" cy="1439.3" rx="8.9" ry="8.6"/><ellipse cx="1692.16" cy="1423.2" rx="8.9" ry="8.6"/><ellipse cx="1706.1" cy="1408.5" rx="8.9" ry="8.6"/><ellipse cx="1720.03" cy="1395.2" rx="8.9" ry="8.6"/><ellipse cx="1733.96" cy="1382.4" rx="8.9" ry="8.6"/><ellipse cx="1747.9" cy="1371.3" rx="8.9" ry="8.6"/><ellipse cx="1761.83" cy="1361.6" rx="8.9" ry="8.6"/><ellipse cx="1775.77" cy="1352.9" rx="8.9" ry="8.6"/><ellipse cx="1789.7" cy="1346" rx="8.9" ry="8.6"/><ellipse cx="1803.63" cy="1337.7" rx="8.9" ry="8.6"/><ellipse cx="1817.57" cy="1331.3" rx="8.9" ry="8.6"/><ellipse cx="1831.5" cy="1327.6" rx="8.9" ry="8.6"/><ellipse cx="1845.43" cy="1323.9" rx="8.9" ry="8.6"/><ellipse cx="1859.37" cy="1321.9" rx="8.9" ry="8.6"/><ellipse cx="1873.3" cy="1321.5" rx="8.9" ry="8.6"/><ellipse cx="1887.23" cy="1321.9" rx="8.9" ry="8.6"/><ellipse cx="1901.17" cy="1323.9" rx="8.9" ry="8.6"/><ellipse cx="1915.1" cy="1327.6" rx="8.9" ry="8.6"/><ellipse cx="1929.03" cy="1331.3" rx="8.9" ry="8.6"/><ellipse cx="1942.97" cy="1337.7" rx="8.9" ry="8.6"/><ellipse cx="1956.9" cy="1346" rx="8.9" ry="8.6"/><ellipse cx="1970.83" cy="1352.9" rx="8.9" ry="8.6"/><ellipse cx="1984.77" cy="1361.6" rx="8.9" ry="8.6"/><ellipse cx="1998.7" cy="1371.3" rx="8.9" ry="8.6"/><ellipse cx="2012.63" cy="1382.4" rx="8.9" ry="8.6"/><ellipse cx="2026.57" cy="1395.4" rx="8.9" ry="8.6"/><ellipse cx="2040.5" cy="1550.9" rx="8.9" ry="8.6"/><ellipse cx="2054.44" cy="1574.8" rx="8.9" ry="8.6"/><ellipse cx="2068.37" cy="1600" rx="8.9" ry="8.6"/><ellipse cx="2082.3" cy="1639.5" rx="8.9" ry="8.6"/><ellipse cx="2096.24" cy="1664.7" rx="8.9" ry="8.6"/><ellipse cx="2110.17" cy="1688.6" rx="8.9" ry="8.6"/><ellipse cx="2124.1" cy="1712.5" rx="8.9" ry="8.6"/><ellipse cx="2138.04" cy="1736.4" rx="8.9" ry="8.6"/><ellipse cx="2151.97" cy="1760.3" rx="8.9" ry="8.6"/><ellipse cx="2165.9" cy="1784.2" rx="8.9" ry="8.6"/><ellipse cx="2179.84" cy="1807.7" rx="8.9" ry="8.6"/><ellipse cx="2193.77" cy="1832" rx="8.9" ry="8.6"/><ellipse cx="2207.7" cy="1855.5" rx="8.9" ry="8.6"/><ellipse cx="2221.64" cy="1879" rx="8.9" ry="8.6"/><ellipse cx="2235.57" cy="1903" rx="8.9" ry="8.6"/><ellipse cx="2249.5" cy="1926.8" rx="8.9" ry="8.6"/><ellipse cx="2263.44" cy="1950" rx="8.9" ry="8.6"/><ellipse cx="2277.37" cy="1974.6" rx="8.9" ry="8.6"/><ellipse cx="2291.3" cy="1998.7" rx="8.9" ry="8.6"/><ellipse cx="2305.24" cy="2022.1" rx="8.9" ry="8.6"/><ellipse cx="2319.17" cy="2046.2" rx="8.9" ry="8.6"/><ellipse cx="2333.11" cy="2069.6" rx="8.9" ry="8.6"/><ellipse cx="2347.04" cy="2093.7" rx="8.9" ry="8.6"/></g>
<polyline points="1399.56,2094.1 1413.49,2069.8 1427.43,2045.7 1441.36,2022.1 1455.29,1998.5 1469.23,1974.8 1483.16,1950.7 1497.1,1926.8 1511.03,1903.4 1524.96,1878.9 1538.9,1855 1552.83,1831.7 1566.76,1807.8 1580.7,1783.9 1594.63,1758.2 1608.56,1721.8 1622.5,1696 1636.43,1672.1 1650.36,1648 1664.3,1622.8 1678.23,1598.8 1692.16,1575 1706.1,1550.9 1720.03,1395.2 1733.96,1382.4 1747.9,1371.3 1761.83,1361.6 1775.77,1352.9 1789.7,1346 1803.63,1337.7 1817.57,1331.3 1831.5,1327.6 1845.43,1323.9 1859.37,1321.9 1873.3,1321.5 1887.23,1321.9 1901.17,1323.9 1915.1,1327.6 1929.03,1331.3 1942.97,1337.7 1956.9,1346 1970.83,1352.9 1984.77,1361.6 1998.7,1371.3 2012.63,1382.4 2026.57,1395.2 2040.5,1408.5 2054.44,1423.2 2068.37,1439.3 2082.3,1455.9 2096.24,1474.3 2110.17,1493.9 2124.1,1514.2 2138.04,1536.8 2151.97,1559.2 2165.9,1582.4 2179.84,1608 2193.77,1634.1 2207.7,1659.8 2221.64,1686.8 2235.57,1716.3 2249.5,1745.7 2263.44,1776.9 2277.37,1809.6 2291.3,1844.6 2305.24,1895 2319.17,2045.7 2333.11,2069.8" fill="none" stroke="#1f77b4" stroke-width="3.5" stroke-linejoin="round"/>
<g fill="#1f77b4"><ellipse cx="1399.56" cy="2094.1" rx="8.9" ry="8.6"/><ellipse cx="1413.49" cy="2069.8" rx="8.9" ry="8.6"/><ellipse cx="1427.43" cy="2045.7" rx="8.9" ry="8.6"/><ellipse cx="1441.36" cy="2022.1" rx="8.9" ry="8.6"/><ellipse cx="1455.29" cy="1998.5" rx="8.9" ry="8.6"/><ellipse cx="1469.23" cy="1974.8" rx="8.9" ry="8.6"/><ellipse cx="1483.16" cy="1950.7" rx="8.9" ry="8.6"/><ellipse cx="1497.1" cy="1926.8" rx="8.9" ry="8.6"/><ellipse cx="1511.03" cy="1903.4" rx="8.9" ry="8.6"/><ellipse cx="1524.96" cy="1878.9" rx="8.9" ry="8.6"/><ellipse cx="1538.9" cy="1855" rx="8.9" ry="8.6"/><ellipse cx="1552.83" cy="1831.7" rx="8.9" ry="8.6"/><ellipse cx="1566.76" cy="1807.8" rx="8.9" ry="8.6"/><ellipse cx="1580.7" cy="1783.9" rx="8.9" ry="8.6"/><ellipse cx="1594.63" cy="1758.2" rx="8.9" ry="8.6"/><ellipse cx="1608.56" cy="1721.8" rx="8.9" ry="8.6"/><ellipse cx="1622.5" cy="1696" rx="8.9" ry="8.6"/><ellipse cx="1636.43" cy="1672.1" rx="8.9" ry="8.6"/><ellipse cx="1650.36" cy="1648" rx="8.9" ry="8.6"/><ellipse cx="1664.3" cy="1622.8" rx="8.9" ry="8.6"/><ellipse cx="1678.23" cy="1598.8" rx="8.9" ry="8.6"/><ellipse cx="1692.16" cy="1575" rx="8.9" ry="8.6"/><ellipse cx="1706.1" cy="1550.9" rx="8.9" ry="8.6"/><ellipse cx="1720.03" cy="1395.2" rx="8.9" ry="8.6"/><ellipse cx="1733.96" cy="1382.4" rx="8.9" ry="8.6"/><ellipse cx="1747.9" cy="1371.3" rx="8.9" ry="8.6"/><ellipse cx="1761.83" cy="1361.6" rx="8.9" ry="8.6"/><ellipse cx="1775.77" cy="1352.9" rx="8.9" ry="8.6"/><ellipse cx="1789.7" cy="1346" rx="8.9" ry="8.6"/><ellipse cx="1803.63" cy="1337.7" rx="8.9" ry="8.6"/><ellipse cx="1817.57" cy="1331.3" rx="8.9" ry="8.6"/><ellipse cx="1831.5" cy="1327.6" rx="8.9" ry="8.6"/><ellipse cx="1845.43" cy="1323.9" rx="8.9" ry="8.6"/><ellipse cx="1859.37" cy="1321.9" rx="8.9" ry="8.6"/><ellipse cx="1873.3" cy="1321.5" rx="8.9" ry="8.6"/><ellipse cx="1887.23" cy="1321.9" rx="8.9" ry="8.6"/><ellipse cx="1901.17" cy="1323.9" rx="8.9" ry="8.6"/><ellipse cx="1915.1" cy="1327.6" rx="8.9" ry="8.6"/><ellipse cx="1929.03" cy="1331.3" rx="8.9" ry="8.6"/><ellipse cx="1942.97" cy="1337.7" rx="8.9" ry="8.6"/><ellipse cx="1956.9" cy="1346" rx="8.9" ry="8.6"/><ellipse cx="1970.83" cy="1352.9" rx="8.9" ry="8.6"/><ellipse cx="1984.77" cy="1361.6" rx="8.9" ry="8.6"/><ellipse cx="1998.7" cy="1371.3" rx="8.9" ry="8.6"/><ellipse cx="2012.63" cy="1382.4" rx="8.9" ry="8.6"/><ellipse cx="2026.57" cy="1395.2" rx="8.9" ry="8.6"/><ellipse cx="2040.5" cy="1408.5" rx="8.9" ry="8.6"/><ellipse cx="2054.44" cy="1423.2" rx="8.9" ry="8.6"/><ellipse cx="2068.37" cy="1439.3" rx="8.9" ry="8.6"/><ellipse cx="2082.3" cy="1455.9" rx="8.9" ry="8.6"/><ellipse cx="2096.24" cy="1474.3" rx="8.9" ry="8.6"/><ellipse cx="2110.17" cy="1493.9" rx="8.9" ry="8.6"/><ellipse cx="2124.1" cy="1514.2" rx="8.9" ry="8.6"/><ellipse cx="2138.04" cy="1536.8" rx="8.9" ry="8.6"/><ellipse cx="2151.97" cy="1559.2" rx="8.9" ry="8.6"/><ellipse cx="2165.9" cy="1582.4" rx="8.9" ry="8.6"/><ellipse cx="2179.84" cy="1608" rx="8.9" ry="8.6"/><ellipse cx="2193.77" cy="1634.1" rx="8.9" ry="8.6"/><ellipse cx="2207.7" cy="1659.8" rx="8.9" ry="8.6"/><ellipse cx="2221.64" cy="1686.8" rx="8.9" ry="8.6"/><ellipse cx="2235.57" cy="1716.3" rx="8.9" ry="8.6"/><ellipse cx="2249.5" cy="1745.7" rx="8.9" ry="8.6"/><ellipse cx="2263.44" cy="1776.9" rx="8.9" ry="8.6"/><ellipse cx="2277.37" cy="1809.6" rx="8.9" ry="8.6"/><ellipse cx="2291.3" cy="1844.6" rx="8.9" ry="8.6"/><ellipse cx="2305.24" cy="1895" rx="8.9" ry="8.6"/><ellipse cx="2319.17" cy="2045.7" rx="8.9" ry="8.6"/><ellipse cx="2333.11" cy="2069.8" rx="8.9" ry="8.6"/></g>
</g>
<rect x="1399.4" y="1285.6" width="948.3" height="846.7" fill="none" stroke="#000" stroke-width="1.9"/>
<path d="M1455.6 2132.3v9.8M1594.9 2132.3v9.8M1734.3 2132.3v9.8M1873.3 2132.3v9.8M2012.7 2132.3v9.8M2151.9 2132.3v9.8M2291.3 2132.3v9.8M1399.4 1323.9h-9.8M1399.4 1455.9h-9.8M1399.4 1587.6h-9.8M1399.4 1718.4h-9.8M1399.4 1850.1h-9.8M1399.4 1982h-9.8M1399.4 2114h-9.8" stroke="#000" stroke-width="1.9" fill="none"/>
<g font-family="DejaVu Sans" font-size="31.4" fill="#000">
<text transform="translate(1455.6 2175.7) scale(1.05 1)" text-anchor="middle">−150</text>
<text transform="translate(1594.9 2175.7) scale(1.05 1)" text-anchor="middle">−100</text>
<text transform="translate(1734.3 2175.7) scale(1.05 1)" text-anchor="middle">−50</text>
<text transform="translate(1873.3 2175.7) scale(1.05 1)" text-anchor="middle">0</text>
<text transform="translate(2012.7 2175.7) scale(1.05 1)" text-anchor="middle">50</text>
<text transform="translate(2151.9 2175.7) scale(1.05 1)" text-anchor="middle">100</text>
<text transform="translate(2291.3 2175.7) scale(1.05 1)" text-anchor="middle">150</text>
<text transform="translate(1380 1335.9) scale(1.05 1)" text-anchor="end">0.0</text>
<text transform="translate(1380 1467.9) scale(1.05 1)" text-anchor="end">0.2</text>
<text transform="translate(1380 1599.6) scale(1.05 1)" text-anchor="end">0.4</text>
<text transform="translate(1380 1730.4) scale(1.05 1)" text-anchor="end">0.6</text>
<text transform="translate(1380 1862.1) scale(1.05 1)" text-anchor="end">0.8</text>
<text transform="translate(1380 1994) scale(1.05 1)" text-anchor="end">1.0</text>
<text transform="translate(1380 2126) scale(1.05 1)" text-anchor="end">−1.2</text>
</g>
<rect x="542.6" y="98.6" width="222.3" height="45.8" rx="5" ry="5" fill="#fff" fill-opacity="0.8" stroke="#cccccc" stroke-width="1.9" stroke-opacity="0.8"/>
<path d="M549.4 118.1H605.9" stroke="#000" stroke-width="3.5"/>
<ellipse cx="578.6" cy="118.1" rx="8.9" ry="8.6" fill="#000"/>
<text x="627.1" y="129.3" font-family="DejaVu Sans" font-size="24.4" fill="#000" textLength="124" lengthAdjust="spacingAndGlyphs"><tspan font-style="italic">t</tspan><tspan dx="4">=</tspan><tspan dx="4">48 nm</tspan></text>
<rect x="1762.6" y="98.6" width="222.3" height="45.8" rx="5" ry="5" fill="#fff" fill-opacity="0.8" stroke="#cccccc" stroke-width="1.9" stroke-opacity="0.8"/>
<path d="M1769.4 118.1H1825.9" stroke="#000" stroke-width="3.5"/>
<ellipse cx="1798.6" cy="118.1" rx="8.9" ry="8.6" fill="#000"/>
<text x="1847.1" y="129.3" font-family="DejaVu Sans" font-size="24.4" fill="#000" textLength="124" lengthAdjust="spacingAndGlyphs"><tspan font-style="italic">t</tspan><tspan dx="4">=</tspan><tspan dx="4">48 nm</tspan></text>
<rect x="889.5" y="1298.5" width="222.3" height="45.8" rx="5" ry="5" fill="#fff" fill-opacity="0.8" stroke="#cccccc" stroke-width="1.9" stroke-opacity="0.8"/>
<path d="M896.3 1318H952.8" stroke="#000" stroke-width="3.5"/>
<ellipse cx="925.5" cy="1318" rx="8.9" ry="8.6" fill="#000"/>
<text x="974" y="1329.2" font-family="DejaVu Sans" font-size="24.4" fill="#000" textLength="124" lengthAdjust="spacingAndGlyphs"><tspan font-style="italic">t</tspan><tspan dx="4">=</tspan><tspan dx="4">48 nm</tspan></text>
<rect x="2112.4" y="1298.5" width="222.3" height="45.8" rx="5" ry="5" fill="#fff" fill-opacity="0.8" stroke="#cccccc" stroke-width="1.9" stroke-opacity="0.8"/>
<path d="M2119.2 1318H2175.7" stroke="#000" stroke-width="3.5"/>
<ellipse cx="2148.4" cy="1318" rx="8.9" ry="8.6" fill="#000"/>
<text x="2196.9" y="1329.2" font-family="DejaVu Sans" font-size="24.4" fill="#000" textLength="124" lengthAdjust="spacingAndGlyphs"><tspan font-style="italic">t</tspan><tspan dx="4">=</tspan><tspan dx="4">48 nm</tspan></text>
<text x="168.5" y="62" font-family="Carlito, 'Liberation Sans', sans-serif" font-size="57" fill="#000">10<tspan dx="11.2" dy="-17.5" font-size="36.5">-17</tspan></text>
<text x="1411.9" y="62" font-family="Carlito, 'Liberation Sans', sans-serif" font-size="57" fill="#000">10<tspan dx="11.2" dy="-17.5" font-size="36.5">-16</tspan></text>
<text x="168.5" y="1265" font-family="Carlito, 'Liberation Sans', sans-serif" font-size="57" fill="#000">10<tspan dx="11.2" dy="-17.5" font-size="36.5">-17</tspan></text>
<text x="1397.5" y="1265" font-family="Carlito, 'Liberation Sans', sans-serif" font-size="57" fill="#000">10<tspan dx="11.6" dy="-17.5" font-size="36.5">-15</tspan></text>
<text transform="translate(71 468.8) rotate(-90)" text-anchor="middle" font-family="Carlito, 'Liberation Sans', sans-serif" font-style="italic" font-size="66.7" fill="#000">Exchange energy (J)</text>
<text transform="translate(1283 516.45) rotate(-90)" text-anchor="middle" font-family="Carlito, 'Liberation Sans', sans-serif" font-style="italic" font-size="66.7" fill="#000">Demagnetizing energy (J)</text>
<text transform="translate(68.3 1687) rotate(-90)" text-anchor="middle" font-family="Carlito, 'Liberation Sans', sans-serif" font-style="italic" font-size="66.7" fill="#000">Anisotropy energy (J)</text>
<text transform="translate(1268.5 1750.9) rotate(-90)" text-anchor="middle" font-family="Carlito, 'Liberation Sans', sans-serif" font-style="italic" font-size="66.7" fill="#000">Zeeman energy (J)</text>
<text transform="translate(629.8 1077.8) scale(1.045 1)" text-anchor="middle" font-family="Carlito, 'Liberation Sans', sans-serif" font-style="italic" font-size="64.5" fill="#000">H (mT)</text>
<text transform="translate(1846.3 1074.8) scale(1.045 1)" text-anchor="middle" font-family="Carlito, 'Liberation Sans', sans-serif" font-style="italic" font-size="64.5" fill="#000">H (mT)</text>
<text transform="translate(629.3 2269.8) scale(1.045 1)" text-anchor="middle" font-family="Carlito, 'Liberation Sans', sans-serif" font-style="italic" font-size="64.5" fill="#000">H (mT)</text>
<text transform="translate(1846.3 2283.8) scale(1.045 1)" text-anchor="middle" font-family="Carlito, 'Liberation Sans', sans-serif" font-style="italic" font-size="64.5" fill="#000">H (mT)</text>
<text transform="translate(602.8 1197) scale(1.0 1)" text-anchor="middle" font-family="Carlito, 'Liberation Sans', sans-serif" font-size="88" fill="#000">(<tspan dy="-2.8">a</tspan><tspan dy="2.8">)</tspan></text>
<text transform="translate(1821.5 1198) scale(1.0 1)" text-anchor="middle" font-family="Carlito, 'Liberation Sans', sans-serif" font-size="88" fill="#000">(<tspan dy="-2.8">b</tspan><tspan dy="2.8">)</tspan></text>
<text transform="translate(600.4 2387) scale(1.0 1)" text-anchor="middle" font-family="Carlito, 'Liberation Sans', sans-serif" font-size="88" fill="#000">(<tspan dy="-2.8">c</tspan><tspan dy="2.8">)</tspan></text>
<text transform="translate(1880 2388.5) scale(1.075 1)" text-anchor="middle" font-family="Carlito, 'Liberation Sans', sans-serif" font-size="82" fill="#000">(<tspan dy="-2.8">d</tspan><tspan dy="2.8">)</tspan></text>
</svg></body></html>
